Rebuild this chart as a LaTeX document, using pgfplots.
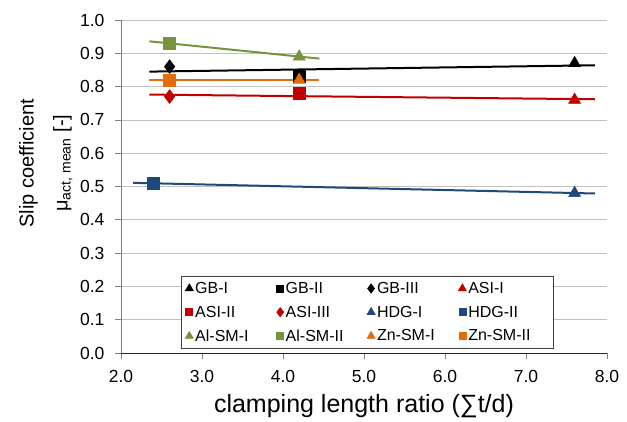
\documentclass[border=0pt]{standalone}
\usepackage{pgfplots}
\pgfplotsset{compat=1.18}
\usepackage{fontspec}
\setmainfont{Liberation Sans}

\definecolor{cGB}{HTML}{000000}
\definecolor{cASI}{HTML}{C00000}
\definecolor{cHDG}{HTML}{1F497D}
\definecolor{cAl}{HTML}{77933C}
\definecolor{cZn}{HTML}{E46C0A}
\definecolor{gridgray}{HTML}{C0C0C0}

\newcommand{\lw}[1]{\makebox[79.5pt][l]{#1}}

\begin{document}
\begin{tikzpicture}
\begin{axis}[
  at={(0,0)}, anchor=south west,
  scale only axis, width=486pt, height=333pt,
  xmin=2, xmax=8, ymin=0, ymax=1,
  xtick={2,3,4,5,6,7,8},
  ytick={0,0.1,0.2,0.3,0.4,0.5,0.6,0.7,0.8,0.9,1.0},
  axis x line=bottom, axis y line=left,
  x axis line style={-, black!85, line width=0.8pt},
  y axis line style={-, gray, line width=0.8pt},
  tick align=outside, major tick length=6pt,
  tick style={gray, line width=0.8pt},
  ymajorgrids, major grid style={gridgray, line width=0.8pt},
  /pgf/number format/assume math mode=true,
  xticklabel={\pgfmathprintnumber[fixed,fixed zerofill,precision=1]{\tick}},
  yticklabel={\pgfmathprintnumber[fixed,fixed zerofill,precision=1]{\tick}},
  ticklabel style={font=\fontsize{17.5}{17.5}\selectfont},
  xticklabel style={yshift=-8pt},
  yticklabel style={xshift=-7pt},
  xlabel={clamping length ratio (∑t/d)},
  xlabel style={font=\fontsize{25}{25}\selectfont,
    at={(axis description cs:0.5,0)}, anchor=base, yshift=-59pt},
  ylabel={Slip coefficient\\μ\textsubscript{act, mean} [-]},
  ylabel style={font=\fontsize{20}{34}\selectfont, align=center,
    at={(axis description cs:0,0.57)}, anchor=south, yshift=45pt},
  legend columns=4,
  legend cell align=left,
  legend image code/.code={\draw[#1] plot coordinates {(0pt,0pt)};},
  legend style={at={(axis description cs:0.1235,0.012)}, anchor=south west,
    draw=black!75, fill=white, line width=0.8pt,
    font=\fontsize{16}{16}\selectfont,
    row sep=7pt, inner xsep=4pt, inner ysep=4pt},
]
% linear trendlines of each coating group
\addplot[cGB, line width=2pt, forget plot] coordinates {(2.35,0.845) (7.85,0.864)};
\addplot[cASI, line width=2pt, forget plot] coordinates {(2.35,0.776) (7.85,0.762)};
\addplot[cHDG, line width=2pt, forget plot] coordinates {(2.15,0.511) (7.85,0.479)};
\addplot[cAl, line width=2pt, forget plot] coordinates {(2.35,0.936) (4.45,0.884)};
\addplot[cZn, line width=2pt, forget plot] coordinates {(2.35,0.82) (4.45,0.82)};

% measured slip coefficients
\addplot[only marks, mark=triangle*, mark size=7pt, cGB, forget plot] coordinates {(7.6,0.87)};
\addplot[only marks, mark=square*, mark size=6pt, cGB, forget plot] coordinates {(4.2,0.83)};
\addplot[only marks, mark=diamond*, mark size=7pt, cGB, forget plot] coordinates {(2.6,0.86)};
\addplot[only marks, mark=triangle*, mark size=7pt, cASI, forget plot] coordinates {(7.6,0.76)};
\addplot[only marks, mark=square*, mark size=6pt, cASI, forget plot] coordinates {(4.2,0.78)};
\addplot[only marks, mark=diamond*, mark size=7pt, cASI, forget plot] coordinates {(2.6,0.77)};
\addplot[only marks, mark=triangle*, mark size=7pt, cHDG, forget plot] coordinates {(7.6,0.48)};
\addplot[only marks, mark=square*, mark size=6pt, cHDG, forget plot] coordinates {(2.4,0.51)};
\addplot[only marks, mark=triangle*, mark size=7pt, cAl, forget plot] coordinates {(4.2,0.89)};
\addplot[only marks, mark=square*, mark size=6pt, cAl, forget plot] coordinates {(2.6,0.93)};
\addplot[only marks, mark=triangle*, mark size=7pt, cZn, forget plot] coordinates {(4.2,0.82)};
\addplot[only marks, mark=square*, mark size=6pt, cZn, forget plot] coordinates {(2.6,0.82)};

% legend entries
\addlegendimage{only marks, mark=triangle*, mark size=4.5pt, cGB}\addlegendentry{\lw{GB-I}}
\addlegendimage{only marks, mark=square*, mark size=3.5pt, cGB}\addlegendentry{\lw{GB-II}}
\addlegendimage{only marks, mark=diamond*, mark size=4.5pt, cGB}\addlegendentry{\lw{GB-III}}
\addlegendimage{only marks, mark=triangle*, mark size=4.5pt, cASI}\addlegendentry{\lw{ASI-I}}
\addlegendimage{only marks, mark=square*, mark size=3.5pt, cASI}\addlegendentry{\lw{ASI-II}}
\addlegendimage{only marks, mark=diamond*, mark size=4.5pt, cASI}\addlegendentry{\lw{ASI-III}}
\addlegendimage{only marks, mark=triangle*, mark size=4.5pt, cHDG}\addlegendentry{\lw{HDG-I}}
\addlegendimage{only marks, mark=square*, mark size=3.5pt, cHDG}\addlegendentry{\lw{HDG-II}}
\addlegendimage{only marks, mark=triangle*, mark size=4.5pt, cAl}\addlegendentry{\lw{Al-SM-I}}
\addlegendimage{only marks, mark=square*, mark size=3.5pt, cAl}\addlegendentry{\lw{Al-SM-II}}
\addlegendimage{only marks, mark=triangle*, mark size=4.5pt, cZn}\addlegendentry{\lw{Zn-SM-I}}
\addlegendimage{only marks, mark=square*, mark size=3.5pt, cZn}\addlegendentry{Zn-SM-II}
\end{axis}
\pgfresetboundingbox
\path (-121pt,-68pt) rectangle (506pt,353pt);
\end{tikzpicture}
\end{document}
